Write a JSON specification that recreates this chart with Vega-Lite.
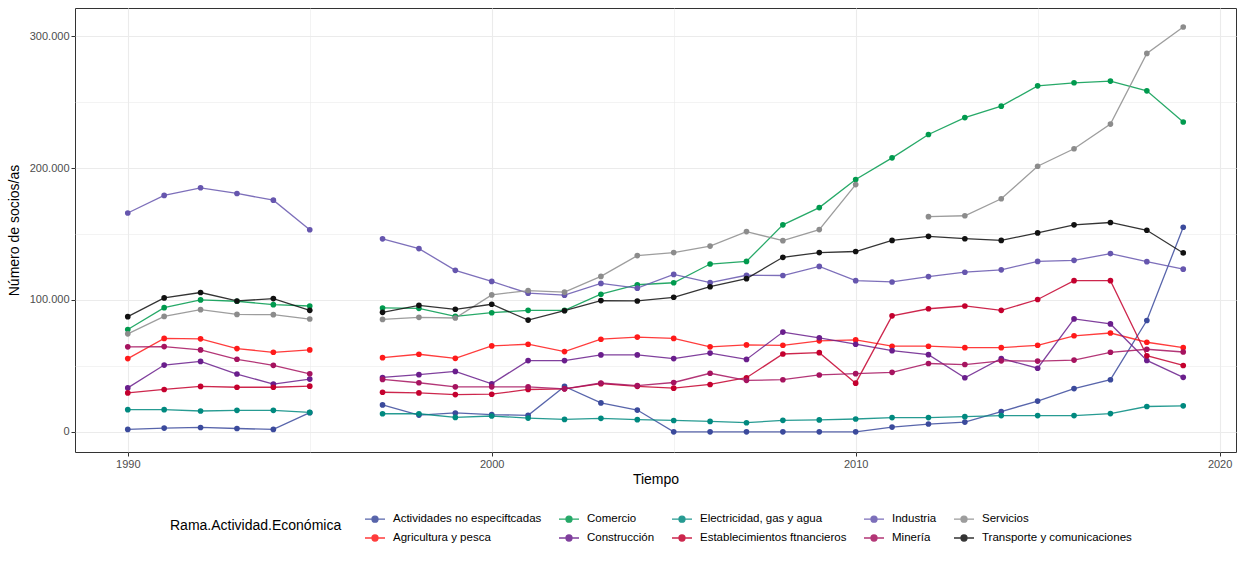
{
  "$schema": "https://vega.github.io/schema/vega-lite/v6.json",
  "width": 1161,
  "height": 444,
  "autosize": {"type": "none"},
  "padding": {"left": 75, "top": 8, "right": 6, "bottom": 114},
  "background": "white",
  "config": {
    "locale": {"number": {"decimal": ",", "thousands": ".", "grouping": [3], "currency": ["", " €"]}},
    "font": "Liberation Sans",
    "view": {"stroke": "#333333", "strokeWidth": 1}
  },
  "datasets": {
    "socios": [
      {"anio":1990,"rama":"Actividades no especiftcadas","socios":1800},{"anio":1991,"rama":"Actividades no especiftcadas","socios":2800},{"anio":1992,"rama":"Actividades no especiftcadas","socios":3300},{"anio":1993,"rama":"Actividades no especiftcadas","socios":2500},{"anio":1994,"rama":"Actividades no especiftcadas","socios":1800},{"anio":1995,"rama":"Actividades no especiftcadas","socios":14500},{"anio":1996,"rama":"Actividades no especiftcadas","socios":null},{"anio":1997,"rama":"Actividades no especiftcadas","socios":20400},{"anio":1998,"rama":"Actividades no especiftcadas","socios":12700},{"anio":1999,"rama":"Actividades no especiftcadas","socios":14300},{"anio":2000,"rama":"Actividades no especiftcadas","socios":13000},{"anio":2001,"rama":"Actividades no especiftcadas","socios":12500},{"anio":2002,"rama":"Actividades no especiftcadas","socios":34400},{"anio":2003,"rama":"Actividades no especiftcadas","socios":21900},{"anio":2004,"rama":"Actividades no especiftcadas","socios":16500},{"anio":2005,"rama":"Actividades no especiftcadas","socios":0},{"anio":2006,"rama":"Actividades no especiftcadas","socios":0},{"anio":2007,"rama":"Actividades no especiftcadas","socios":0},{"anio":2008,"rama":"Actividades no especiftcadas","socios":0},{"anio":2009,"rama":"Actividades no especiftcadas","socios":0},{"anio":2010,"rama":"Actividades no especiftcadas","socios":0},{"anio":2011,"rama":"Actividades no especiftcadas","socios":3600},{"anio":2012,"rama":"Actividades no especiftcadas","socios":5900},{"anio":2013,"rama":"Actividades no especiftcadas","socios":7400},{"anio":2014,"rama":"Actividades no especiftcadas","socios":15400},{"anio":2015,"rama":"Actividades no especiftcadas","socios":23300},{"anio":2016,"rama":"Actividades no especiftcadas","socios":32800},{"anio":2017,"rama":"Actividades no especiftcadas","socios":39500},{"anio":2018,"rama":"Actividades no especiftcadas","socios":84400},{"anio":2019,"rama":"Actividades no especiftcadas","socios":155100},

      {"anio":1990,"rama":"Agricultura y pesca","socios":55500},{"anio":1991,"rama":"Agricultura y pesca","socios":70800},{"anio":1992,"rama":"Agricultura y pesca","socios":70500},{"anio":1993,"rama":"Agricultura y pesca","socios":63100},{"anio":1994,"rama":"Agricultura y pesca","socios":60300},{"anio":1995,"rama":"Agricultura y pesca","socios":62100},{"anio":1996,"rama":"Agricultura y pesca","socios":null},{"anio":1997,"rama":"Agricultura y pesca","socios":56200},{"anio":1998,"rama":"Agricultura y pesca","socios":58800},{"anio":1999,"rama":"Agricultura y pesca","socios":55700},{"anio":2000,"rama":"Agricultura y pesca","socios":65100},{"anio":2001,"rama":"Agricultura y pesca","socios":66400},{"anio":2002,"rama":"Agricultura y pesca","socios":60800},{"anio":2003,"rama":"Agricultura y pesca","socios":70200},{"anio":2004,"rama":"Agricultura y pesca","socios":71800},{"anio":2005,"rama":"Agricultura y pesca","socios":70800},{"anio":2006,"rama":"Agricultura y pesca","socios":64400},{"anio":2007,"rama":"Agricultura y pesca","socios":65900},{"anio":2008,"rama":"Agricultura y pesca","socios":65600},{"anio":2009,"rama":"Agricultura y pesca","socios":69000},{"anio":2010,"rama":"Agricultura y pesca","socios":69700},{"anio":2011,"rama":"Agricultura y pesca","socios":64900},{"anio":2012,"rama":"Agricultura y pesca","socios":64900},{"anio":2013,"rama":"Agricultura y pesca","socios":63800},{"anio":2014,"rama":"Agricultura y pesca","socios":63800},{"anio":2015,"rama":"Agricultura y pesca","socios":65600},{"anio":2016,"rama":"Agricultura y pesca","socios":72800},{"anio":2017,"rama":"Agricultura y pesca","socios":74900},{"anio":2018,"rama":"Agricultura y pesca","socios":67900},{"anio":2019,"rama":"Agricultura y pesca","socios":63800},

      {"anio":1990,"rama":"Comercio","socios":77600},{"anio":1991,"rama":"Comercio","socios":94100},{"anio":1992,"rama":"Comercio","socios":100000},{"anio":1993,"rama":"Comercio","socios":99000},{"anio":1994,"rama":"Comercio","socios":96400},{"anio":1995,"rama":"Comercio","socios":95400},{"anio":1996,"rama":"Comercio","socios":null},{"anio":1997,"rama":"Comercio","socios":93900},{"anio":1998,"rama":"Comercio","socios":93600},{"anio":1999,"rama":"Comercio","socios":87500},{"anio":2000,"rama":"Comercio","socios":90300},{"anio":2001,"rama":"Comercio","socios":92100},{"anio":2002,"rama":"Comercio","socios":92100},{"anio":2003,"rama":"Comercio","socios":104300},{"anio":2004,"rama":"Comercio","socios":111500},{"anio":2005,"rama":"Comercio","socios":113000},{"anio":2006,"rama":"Comercio","socios":127200},{"anio":2007,"rama":"Comercio","socios":129200},{"anio":2008,"rama":"Comercio","socios":156900},{"anio":2009,"rama":"Comercio","socios":170000},{"anio":2010,"rama":"Comercio","socios":191300},{"anio":2011,"rama":"Comercio","socios":207700},{"anio":2012,"rama":"Comercio","socios":225400},{"anio":2013,"rama":"Comercio","socios":238200},{"anio":2014,"rama":"Comercio","socios":246900},{"anio":2015,"rama":"Comercio","socios":262300},{"anio":2016,"rama":"Comercio","socios":264600},{"anio":2017,"rama":"Comercio","socios":265900},{"anio":2018,"rama":"Comercio","socios":258500},{"anio":2019,"rama":"Comercio","socios":234900},

      {"anio":1990,"rama":"Construcción","socios":33300},{"anio":1991,"rama":"Construcción","socios":50600},{"anio":1992,"rama":"Construcción","socios":53400},{"anio":1993,"rama":"Construcción","socios":43800},{"anio":1994,"rama":"Construcción","socios":36100},{"anio":1995,"rama":"Construcción","socios":40000},{"anio":1996,"rama":"Construcción","socios":null},{"anio":1997,"rama":"Construcción","socios":41200},{"anio":1998,"rama":"Construcción","socios":43300},{"anio":1999,"rama":"Construcción","socios":45800},{"anio":2000,"rama":"Construcción","socios":36400},{"anio":2001,"rama":"Construcción","socios":54000},{"anio":2002,"rama":"Construcción","socios":54000},{"anio":2003,"rama":"Construcción","socios":58300},{"anio":2004,"rama":"Construcción","socios":58300},{"anio":2005,"rama":"Construcción","socios":55500},{"anio":2006,"rama":"Construcción","socios":59700},{"anio":2007,"rama":"Construcción","socios":54900},{"anio":2008,"rama":"Construcción","socios":75600},{"anio":2009,"rama":"Construcción","socios":71300},{"anio":2010,"rama":"Construcción","socios":66400},{"anio":2011,"rama":"Construcción","socios":61500},{"anio":2012,"rama":"Construcción","socios":58500},{"anio":2013,"rama":"Construcción","socios":41000},{"anio":2014,"rama":"Construcción","socios":55600},{"anio":2015,"rama":"Construcción","socios":48200},{"anio":2016,"rama":"Construcción","socios":85600},{"anio":2017,"rama":"Construcción","socios":81800},{"anio":2018,"rama":"Construcción","socios":54100},{"anio":2019,"rama":"Construcción","socios":41300},

      {"anio":1990,"rama":"Electricidad, gas y agua","socios":16800},{"anio":1991,"rama":"Electricidad, gas y agua","socios":16800},{"anio":1992,"rama":"Electricidad, gas y agua","socios":15800},{"anio":1993,"rama":"Electricidad, gas y agua","socios":16300},{"anio":1994,"rama":"Electricidad, gas y agua","socios":16300},{"anio":1995,"rama":"Electricidad, gas y agua","socios":14700},{"anio":1996,"rama":"Electricidad, gas y agua","socios":null},{"anio":1997,"rama":"Electricidad, gas y agua","socios":13700},{"anio":1998,"rama":"Electricidad, gas y agua","socios":13700},{"anio":1999,"rama":"Electricidad, gas y agua","socios":10900},{"anio":2000,"rama":"Electricidad, gas y agua","socios":12000},{"anio":2001,"rama":"Electricidad, gas y agua","socios":10400},{"anio":2002,"rama":"Electricidad, gas y agua","socios":9400},{"anio":2003,"rama":"Electricidad, gas y agua","socios":10200},{"anio":2004,"rama":"Electricidad, gas y agua","socios":9200},{"anio":2005,"rama":"Electricidad, gas y agua","socios":8600},{"anio":2006,"rama":"Electricidad, gas y agua","socios":7900},{"anio":2007,"rama":"Electricidad, gas y agua","socios":6900},{"anio":2008,"rama":"Electricidad, gas y agua","socios":8700},{"anio":2009,"rama":"Electricidad, gas y agua","socios":9000},{"anio":2010,"rama":"Electricidad, gas y agua","socios":9700},{"anio":2011,"rama":"Electricidad, gas y agua","socios":10800},{"anio":2012,"rama":"Electricidad, gas y agua","socios":10800},{"anio":2013,"rama":"Electricidad, gas y agua","socios":11500},{"anio":2014,"rama":"Electricidad, gas y agua","socios":12300},{"anio":2015,"rama":"Electricidad, gas y agua","socios":12300},{"anio":2016,"rama":"Electricidad, gas y agua","socios":12300},{"anio":2017,"rama":"Electricidad, gas y agua","socios":13800},{"anio":2018,"rama":"Electricidad, gas y agua","socios":19200},{"anio":2019,"rama":"Electricidad, gas y agua","socios":19700},

      {"anio":1990,"rama":"Establecimientos ftnancieros","socios":29500},{"anio":1991,"rama":"Establecimientos ftnancieros","socios":32100},{"anio":1992,"rama":"Establecimientos ftnancieros","socios":34400},{"anio":1993,"rama":"Establecimientos ftnancieros","socios":33800},{"anio":1994,"rama":"Establecimientos ftnancieros","socios":33800},{"anio":1995,"rama":"Establecimientos ftnancieros","socios":34600},{"anio":1996,"rama":"Establecimientos ftnancieros","socios":null},{"anio":1997,"rama":"Establecimientos ftnancieros","socios":30000},{"anio":1998,"rama":"Establecimientos ftnancieros","socios":29500},{"anio":1999,"rama":"Establecimientos ftnancieros","socios":28200},{"anio":2000,"rama":"Establecimientos ftnancieros","socios":28500},{"anio":2001,"rama":"Establecimientos ftnancieros","socios":32100},{"anio":2002,"rama":"Establecimientos ftnancieros","socios":32600},{"anio":2003,"rama":"Establecimientos ftnancieros","socios":36500},{"anio":2004,"rama":"Establecimientos ftnancieros","socios":34500},{"anio":2005,"rama":"Establecimientos ftnancieros","socios":33100},{"anio":2006,"rama":"Establecimientos ftnancieros","socios":35900},{"anio":2007,"rama":"Establecimientos ftnancieros","socios":41000},{"anio":2008,"rama":"Establecimientos ftnancieros","socios":59000},{"anio":2009,"rama":"Establecimientos ftnancieros","socios":60000},{"anio":2010,"rama":"Establecimientos ftnancieros","socios":36900},{"anio":2011,"rama":"Establecimientos ftnancieros","socios":87900},{"anio":2012,"rama":"Establecimientos ftnancieros","socios":93300},{"anio":2013,"rama":"Establecimientos ftnancieros","socios":95400},{"anio":2014,"rama":"Establecimientos ftnancieros","socios":92100},{"anio":2015,"rama":"Establecimientos ftnancieros","socios":100300},{"anio":2016,"rama":"Establecimientos ftnancieros","socios":114600},{"anio":2017,"rama":"Establecimientos ftnancieros","socios":114600},{"anio":2018,"rama":"Establecimientos ftnancieros","socios":57700},{"anio":2019,"rama":"Establecimientos ftnancieros","socios":50300},

      {"anio":1990,"rama":"Industria","socios":165900},{"anio":1991,"rama":"Industria","socios":179200},{"anio":1992,"rama":"Industria","socios":185000},{"anio":1993,"rama":"Industria","socios":180700},{"anio":1994,"rama":"Industria","socios":175600},{"anio":1995,"rama":"Industria","socios":153200},{"anio":1996,"rama":"Industria","socios":null},{"anio":1997,"rama":"Industria","socios":146300},{"anio":1998,"rama":"Industria","socios":138900},{"anio":1999,"rama":"Industria","socios":122400},{"anio":2000,"rama":"Industria","socios":114000},{"anio":2001,"rama":"Industria","socios":105100},{"anio":2002,"rama":"Industria","socios":103600},{"anio":2003,"rama":"Industria","socios":112500},{"anio":2004,"rama":"Industria","socios":108900},{"anio":2005,"rama":"Industria","socios":119300},{"anio":2006,"rama":"Industria","socios":113100},{"anio":2007,"rama":"Industria","socios":118700},{"anio":2008,"rama":"Industria","socios":118500},{"anio":2009,"rama":"Industria","socios":125400},{"anio":2010,"rama":"Industria","socios":114600},{"anio":2011,"rama":"Industria","socios":113600},{"anio":2012,"rama":"Industria","socios":117700},{"anio":2013,"rama":"Industria","socios":121000},{"anio":2014,"rama":"Industria","socios":122800},{"anio":2015,"rama":"Industria","socios":129200},{"anio":2016,"rama":"Industria","socios":130000},{"anio":2017,"rama":"Industria","socios":135100},{"anio":2018,"rama":"Industria","socios":129000},{"anio":2019,"rama":"Industria","socios":123300},

      {"anio":1990,"rama":"Minería","socios":64400},{"anio":1991,"rama":"Minería","socios":64600},{"anio":1992,"rama":"Minería","socios":62100},{"anio":1993,"rama":"Minería","socios":55000},{"anio":1994,"rama":"Minería","socios":50400},{"anio":1995,"rama":"Minería","socios":44000},{"anio":1996,"rama":"Minería","socios":null},{"anio":1997,"rama":"Minería","socios":39700},{"anio":1998,"rama":"Minería","socios":37200},{"anio":1999,"rama":"Minería","socios":34100},{"anio":2000,"rama":"Minería","socios":34100},{"anio":2001,"rama":"Minería","socios":34100},{"anio":2002,"rama":"Minería","socios":32600},{"anio":2003,"rama":"Minería","socios":37000},{"anio":2004,"rama":"Minería","socios":35000},{"anio":2005,"rama":"Minería","socios":37400},{"anio":2006,"rama":"Minería","socios":44400},{"anio":2007,"rama":"Minería","socios":39000},{"anio":2008,"rama":"Minería","socios":39500},{"anio":2009,"rama":"Minería","socios":43100},{"anio":2010,"rama":"Minería","socios":44100},{"anio":2011,"rama":"Minería","socios":45100},{"anio":2012,"rama":"Minería","socios":51800},{"anio":2013,"rama":"Minería","socios":51000},{"anio":2014,"rama":"Minería","socios":53800},{"anio":2015,"rama":"Minería","socios":53600},{"anio":2016,"rama":"Minería","socios":54400},{"anio":2017,"rama":"Minería","socios":60300},{"anio":2018,"rama":"Minería","socios":62600},{"anio":2019,"rama":"Minería","socios":60500},

      {"anio":1990,"rama":"Servicios","socios":74300},{"anio":1991,"rama":"Servicios","socios":87500},{"anio":1992,"rama":"Servicios","socios":92600},{"anio":1993,"rama":"Servicios","socios":89000},{"anio":1994,"rama":"Servicios","socios":88800},{"anio":1995,"rama":"Servicios","socios":85500},{"anio":1996,"rama":"Servicios","socios":null},{"anio":1997,"rama":"Servicios","socios":85200},{"anio":1998,"rama":"Servicios","socios":86800},{"anio":1999,"rama":"Servicios","socios":86300},{"anio":2000,"rama":"Servicios","socios":103800},{"anio":2001,"rama":"Servicios","socios":107100},{"anio":2002,"rama":"Servicios","socios":105900},{"anio":2003,"rama":"Servicios","socios":117800},{"anio":2004,"rama":"Servicios","socios":133600},{"anio":2005,"rama":"Servicios","socios":135900},{"anio":2006,"rama":"Servicios","socios":140800},{"anio":2007,"rama":"Servicios","socios":151800},{"anio":2008,"rama":"Servicios","socios":144900},{"anio":2009,"rama":"Servicios","socios":153300},{"anio":2010,"rama":"Servicios","socios":187400},{"anio":2011,"rama":"Servicios","socios":null},{"anio":2012,"rama":"Servicios","socios":163100},{"anio":2013,"rama":"Servicios","socios":163800},{"anio":2014,"rama":"Servicios","socios":176700},{"anio":2015,"rama":"Servicios","socios":201300},{"anio":2016,"rama":"Servicios","socios":214600},{"anio":2017,"rama":"Servicios","socios":233300},{"anio":2018,"rama":"Servicios","socios":286900},{"anio":2019,"rama":"Servicios","socios":306900},

      {"anio":1990,"rama":"Transporte y comunicaciones","socios":87300},{"anio":1991,"rama":"Transporte y comunicaciones","socios":101500},{"anio":1992,"rama":"Transporte y comunicaciones","socios":105600},{"anio":1993,"rama":"Transporte y comunicaciones","socios":99200},{"anio":1994,"rama":"Transporte y comunicaciones","socios":101000},{"anio":1995,"rama":"Transporte y comunicaciones","socios":92100},{"anio":1996,"rama":"Transporte y comunicaciones","socios":null},{"anio":1997,"rama":"Transporte y comunicaciones","socios":90600},{"anio":1998,"rama":"Transporte y comunicaciones","socios":95900},{"anio":1999,"rama":"Transporte y comunicaciones","socios":92900},{"anio":2000,"rama":"Transporte y comunicaciones","socios":96700},{"anio":2001,"rama":"Transporte y comunicaciones","socios":84700},{"anio":2002,"rama":"Transporte y comunicaciones","socios":91800},{"anio":2003,"rama":"Transporte y comunicaciones","socios":99500},{"anio":2004,"rama":"Transporte y comunicaciones","socios":99200},{"anio":2005,"rama":"Transporte y comunicaciones","socios":102000},{"anio":2006,"rama":"Transporte y comunicaciones","socios":110000},{"anio":2007,"rama":"Transporte y comunicaciones","socios":116100},{"anio":2008,"rama":"Transporte y comunicaciones","socios":132300},{"anio":2009,"rama":"Transporte y comunicaciones","socios":135900},{"anio":2010,"rama":"Transporte y comunicaciones","socios":136700},{"anio":2011,"rama":"Transporte y comunicaciones","socios":145100},{"anio":2012,"rama":"Transporte y comunicaciones","socios":148200},{"anio":2013,"rama":"Transporte y comunicaciones","socios":146400},{"anio":2014,"rama":"Transporte y comunicaciones","socios":145100},{"anio":2015,"rama":"Transporte y comunicaciones","socios":150800},{"anio":2016,"rama":"Transporte y comunicaciones","socios":156900},{"anio":2017,"rama":"Transporte y comunicaciones","socios":158700},{"anio":2018,"rama":"Transporte y comunicaciones","socios":152800},{"anio":2019,"rama":"Transporte y comunicaciones","socios":135600}
    ]
  },
  "data": {"name": "socios"},
  "encoding": {
    "x": {
      "field": "anio", "type": "quantitative",
      "scale": {"domain": [1988.55, 2020.45], "nice": false, "zero": false},
      "axis": {
        "title": "Tiempo", "titleFontSize": 14, "titleFontWeight": "normal", "titleColor": "black", "titlePadding": 3,
        "values": [1990, 1995, 2000, 2005, 2010, 2015, 2020],
        "format": "d",
        "labelExpr": "datum.value % 10 === 0 ? datum.label : ''",
        "labelFontSize": 11, "labelColor": "#4D4D4D", "labelPadding": 2,
        "domain": false,
        "tickColor": "#333333", "tickSize": 4,
        "tickOpacity": {"condition": {"test": "datum.value % 10 === 0", "value": 1}, "value": 0},
        "gridColor": "#EBEBEB",
        "gridWidth": {"condition": {"test": "datum.value % 10 === 0", "value": 1.1}, "value": 0.6}
      }
    },
    "y": {
      "field": "socios", "type": "quantitative",
      "scale": {"domain": [-15300, 321300], "nice": false, "zero": false},
      "axis": {
        "title": "Número de socios/as", "titleFontSize": 14, "titleFontWeight": "normal", "titleColor": "black", "titlePadding": 8,
        "values": [0, 50000, 100000, 150000, 200000, 250000, 300000],
        "format": ",.0f",
        "labelExpr": "datum.value % 100000 === 0 ? datum.label : ''",
        "labelFontSize": 11, "labelColor": "#4D4D4D", "labelPadding": 2,
        "domain": false,
        "tickColor": "#333333", "tickSize": 4,
        "tickOpacity": {"condition": {"test": "datum.value % 100000 === 0", "value": 1}, "value": 0},
        "gridColor": "#EBEBEB",
        "gridWidth": {"condition": {"test": "datum.value % 100000 === 0", "value": 1.1}, "value": 0.6}
      }
    },
    "color": {
      "field": "rama", "type": "nominal",
      "scale": {
        "domain": ["Actividades no especiftcadas", "Comercio", "Electricidad, gas y agua", "Industria", "Servicios", "Agricultura y pesca", "Construcción", "Establecimientos ftnancieros", "Minería", "Transporte y comunicaciones"],
        "range": ["#3B4A9C", "#009A4E", "#00897F", "#6656AE", "#8C8C8C", "#FF1A1A", "#6A1E8C", "#C4002E", "#A6135F", "#111111"]
      },
      "legend": {
        "title": "Rama.Actividad.Económica",
        "orient": "none", "legendX": 95, "legendY": 500,
        "direction": "horizontal", "columns": 5,
        "titleOrient": "left", "titleAnchor": "middle", "titleBaseline": "middle",
        "titleFontSize": 14, "titleFontWeight": "normal", "titleColor": "black", "titlePadding": 22,
        "labelFontSize": 11.5, "labelColor": "black", "labelOffset": 7, "labelLimit": 0,
        "symbolType": "M-1,0L1,0M-0.3,0A0.3,0.3,0,1,1,0.3,0A0.3,0.3,0,1,1,-0.3,0Z",
        "symbolSize": 400, "symbolStrokeWidth": 1.3,
        "columnPadding": 14, "rowPadding": 2,
        "encode": {"symbols": {"update": {"fill": {"scale": "color", "field": "value"}, "stroke": {"scale": "color", "field": "value"}, "opacity": {"value": 1}}}}
      }
    }
  },
  "layer": [
    {"mark": {"type": "line", "strokeWidth": 1.3, "opacity": 0.85, "invalid": "break-paths-show-domains"}},
    {"mark": {"type": "circle", "size": 32, "opacity": 1}}
  ]
}
